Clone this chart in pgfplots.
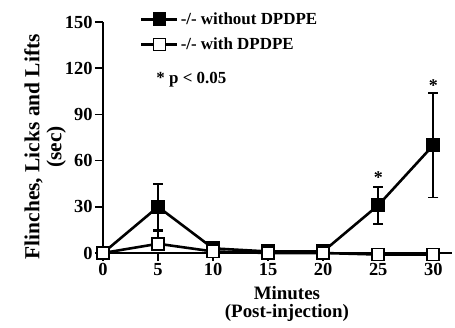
\documentclass[border=0pt]{standalone}
\usepackage{pgfplots}
\pgfplotsset{compat=1.18}
\usepackage{fontspec}
\setmainfont{Liberation Serif}
\begin{document}
\begin{tikzpicture}
\begin{axis}[
  name=ax,
  scale only axis, width=349bp, height=231bp,
  xmin=0, xmax=31.7, ymin=0, ymax=150,
  axis x line*=bottom, axis y line*=left,
  axis line style={line width=2.2pt},
  xtick={0,5,...,30}, ytick={0,30,...,150},
  tick align=outside, major tick length=8bp,
  tick style={line width=1.6pt, black},
  /pgf/number format/assume math mode=true,
  tick label style={font=\bfseries\fontsize{18.5}{18.5}\selectfont},
  xticklabel style={yshift=1bp},
  yticklabel style={xshift=1bp},
  xlabel={Minutes\\(Post-injection)},
  ylabel={Flinches, Licks and Lifts\\(sec)},
  xlabel style={font=\bfseries\fontsize{19}{18}\selectfont, align=center, at={(axis description cs:0.527,-0.222)}, anchor=center},
  ylabel style={font=\bfseries\fontsize{21.5}{22}\selectfont, align=center, at={(axis description cs:-0.166,0.46)}, anchor=center},
  clip=false,
  legend style={at={(axis description cs:0.106,1.05)}, anchor=north west, draw=none, fill=none,
    inner xsep=0pt, inner ysep=0pt,
    font=\bfseries\fontsize{17}{17}\selectfont, row sep=8bp, cells={anchor=west}},
  legend image code/.code={\draw[mark repeat=2,mark phase=2] plot coordinates {(0bp,0bp)(18bp,0bp)(36bp,0bp)};},
]
\addplot[black, line width=2.6pt, mark=square*, mark size=6.5pt, mark options={solid,line width=1pt},
  error bars/.cd, y dir=both, y explicit, error bar style={line width=1.8pt}, error mark options={rotate=90, mark size=5pt, line width=1.8pt}]
  table[x=x, y=y, y error=e] {
x y e
0 0 0
5 30 15
10 3 0
15 1 0
20 1 0
25 31 12
30 70 34
};
\addlegendentry{-/- without DPDPE}
\addplot[black, line width=2.6pt, mark=square*, mark size=6pt, mark options={solid, fill=white, line width=1.8pt},
  error bars/.cd, y dir=plus, y explicit, error bar style={line width=1.8pt}, error mark options={rotate=90, mark size=5pt, line width=1.8pt}]
  table[x=x, y=y, y error=e] {
x y e
0 0 0
5 6 8
10 1 0
15 0 0
20 0 0
25 -1 0
30 -1 0
};
\addlegendentry{-/- with DPDPE}
\node[font=\bfseries\fontsize{17}{17}\selectfont, anchor=west] at (axis description cs:0.143,0.749) {* p < 0.05};
\node[font=\bfseries\fontsize{18}{18}\selectfont] at (axis cs:25,49) {*};
\node[font=\bfseries\fontsize{18}{18}\selectfont] at (axis cs:30,109) {*};
\end{axis}
\pgfresetboundingbox
\path[use as bounding box] ([shift={(-103bp,-75bp)}]ax.south west) rectangle ([shift={(3bp,22bp)}]ax.north east);
\end{tikzpicture}
\end{document}
